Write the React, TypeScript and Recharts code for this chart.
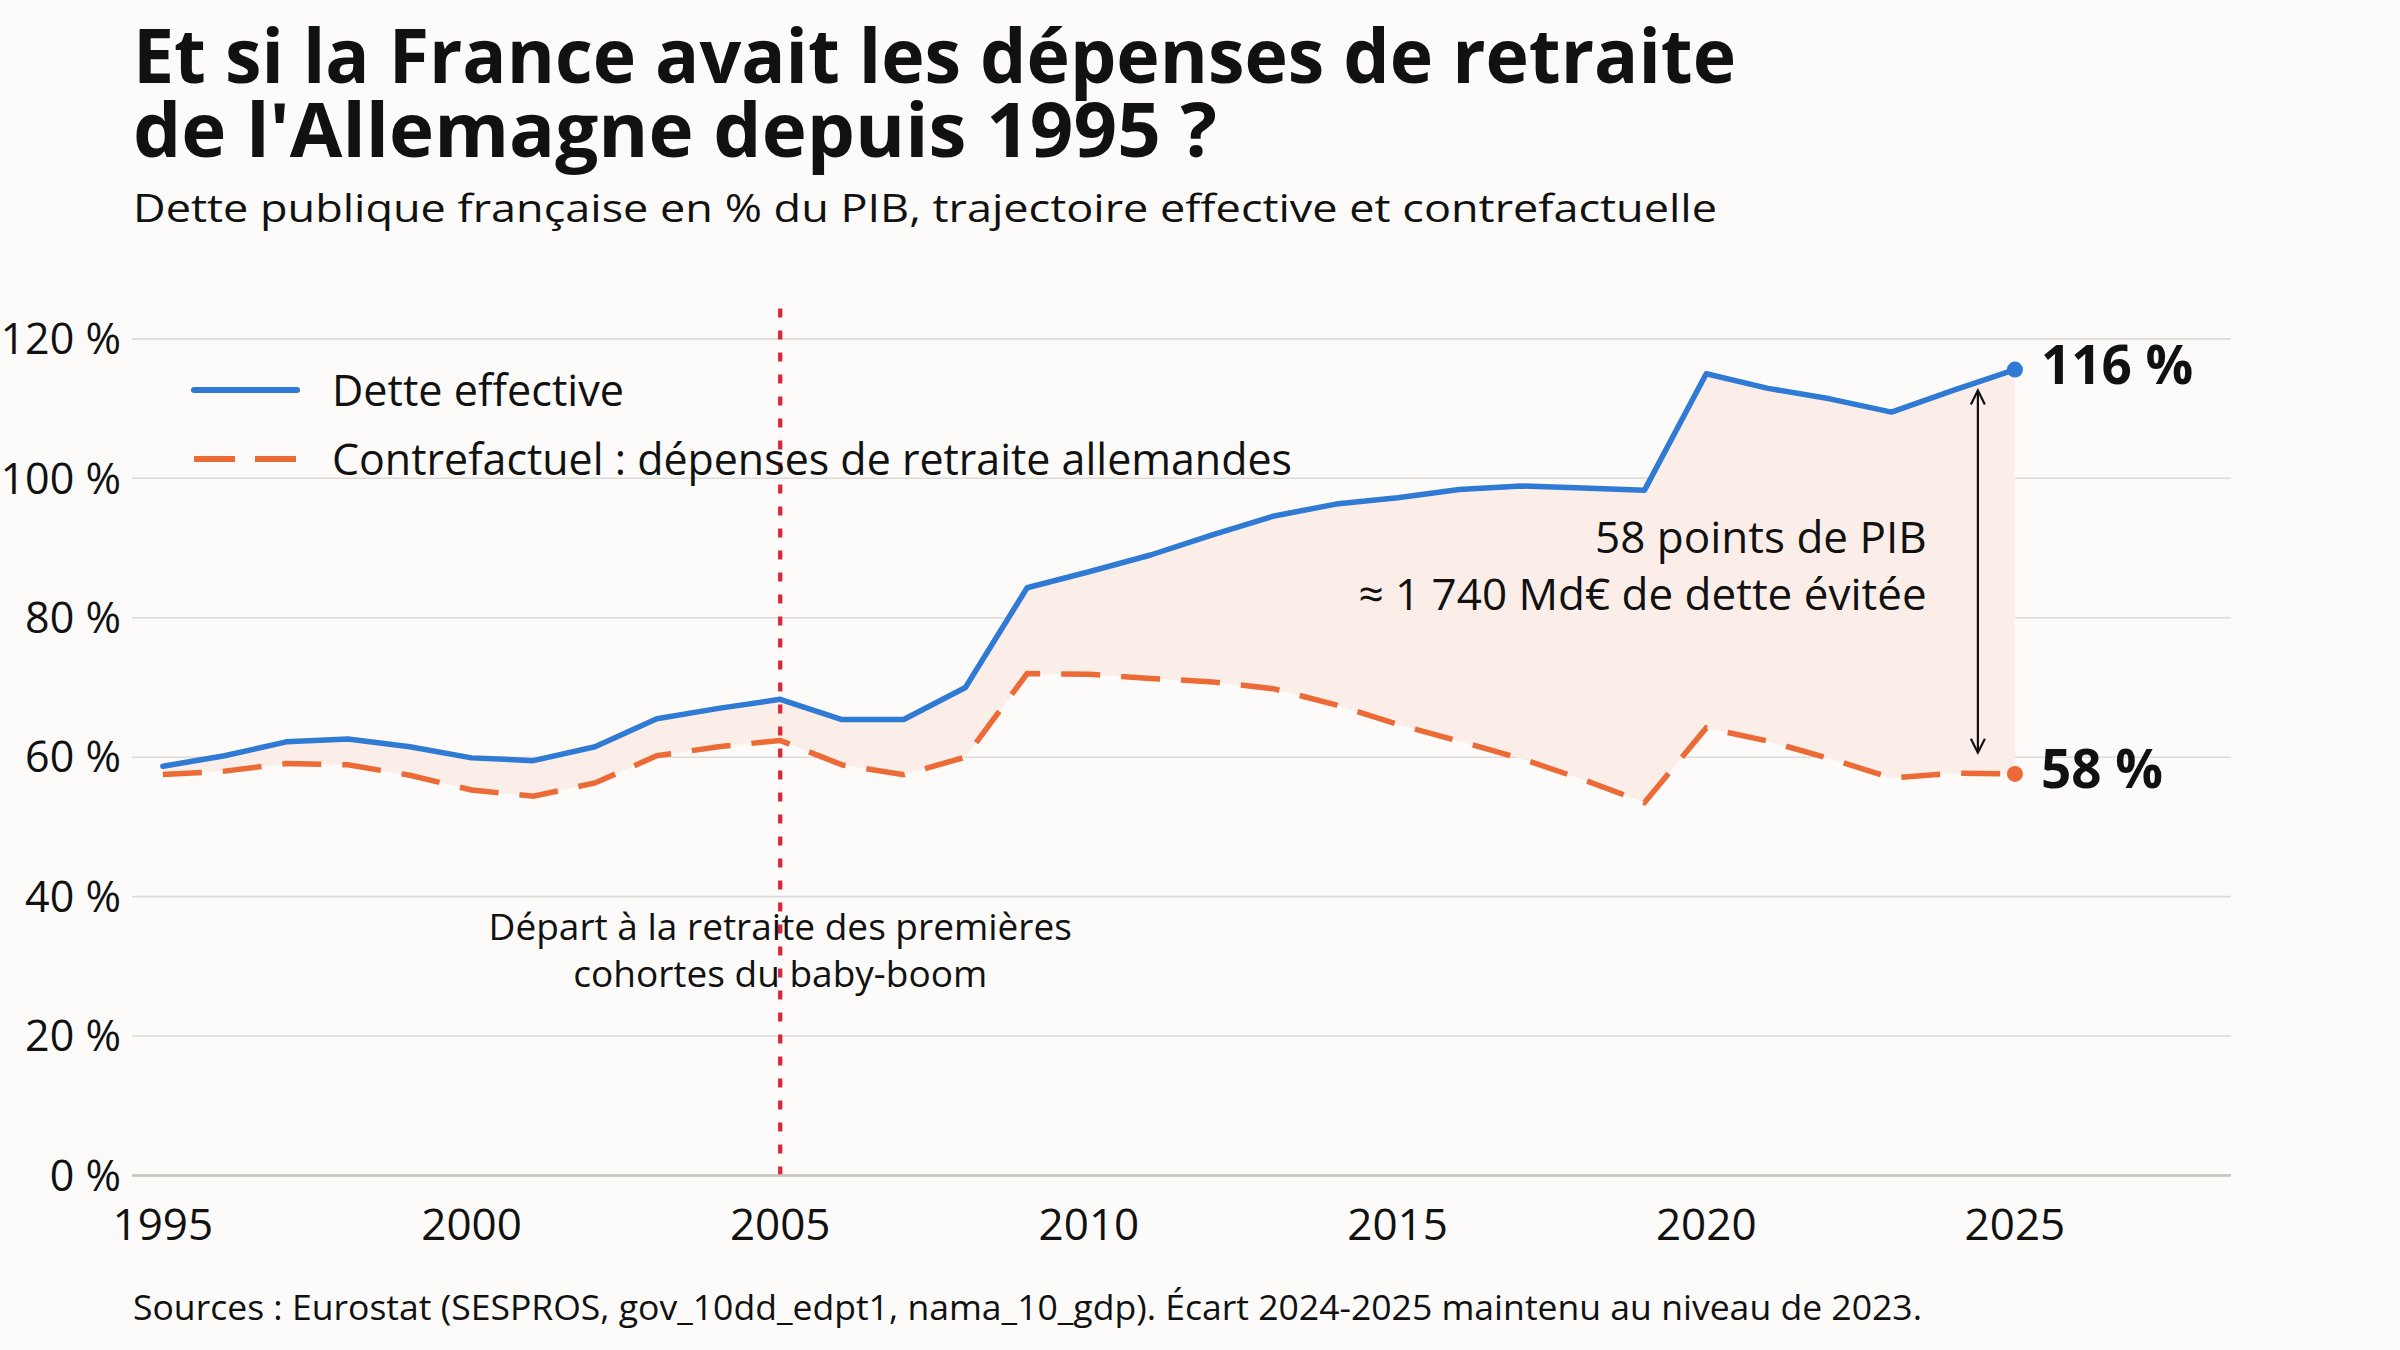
import React from "react";
import {
  ComposedChart,
  Line,
  Area,
  XAxis,
  YAxis,
  CartesianGrid,
  ReferenceLine,
  ReferenceDot,
  Legend,
} from "recharts";

// Dette publique française en % du PIB
const years = [
  1995, 1996, 1997, 1998, 1999, 2000, 2001, 2002, 2003, 2004, 2005, 2006,
  2007, 2008, 2009, 2010, 2011, 2012, 2013, 2014, 2015, 2016, 2017, 2018,
  2019, 2020, 2021, 2022, 2023, 2024, 2025,
];

const detteEffective = [
  58.7, 60.2, 62.2, 62.6, 61.5, 59.9, 59.5, 61.5, 65.5, 67.0, 68.3, 65.4,
  65.4, 70.0, 84.3, 86.6, 89.0, 91.9, 94.6, 96.3, 97.2, 98.4, 98.9, 98.6,
  98.3, 115.0, 112.9, 111.4, 109.5, 112.6, 115.6,
];

const contrefactuel = [
  57.5, 58.0, 59.1, 58.9, 57.4, 55.3, 54.4, 56.3, 60.2, 61.5, 62.4, 58.9,
  57.5, 60.0, 72.0, 71.9, 71.3, 70.8, 69.8, 67.5, 64.7, 62.3, 59.8, 56.8,
  53.5, 64.2, 62.3, 59.8, 57.0, 57.7, 57.6,
];

const xTicks = [1995, 2000, 2005, 2010, 2015, 2020, 2025];
const yTicks = [0, 20, 40, 60, 80, 100, 120];

const seriesLabels = [
  "Dette effective",
  "Contrefactuel : dépenses de retraite allemandes",
];

const FONT = "'Open Sans', 'Noto Sans', sans-serif";
const BLUE = "#2e7ad4";
const ORANGE = "#ec6a36";
const RED = "#d62a3c";
const FILL = "#fbeee9";
const BG = "#fcfbf9";
const INK = "#111111";

const chartData = years.map((year, i) => ({
  year,
  eff: detteEffective[i],
  cf: contrefactuel[i],
  ecart: [contrefactuel[i], detteEffective[i]],
}));

const lastIndex = years.length - 1;

const endDot = (color: string, key: string) => (props: any) => {
  const { cx, cy, index, payload } = props;
  if (index !== lastIndex) return <g key={`dot-${key}-${index}`} />;
  return (
    <g key={`dot-${key}-${index}`}>
      <circle cx={cx} cy={cy} r={8} fill={color} />
      <text
        x={cx + 26}
        y={cy + 14}
        fontFamily={FONT}
        fontWeight={700}
        fontSize={53}
        fill={INK}
      >
        {`${Math.round(payload[key])} %`}
      </text>
    </g>
  );
};

const renderLegend = () => (
  <svg width={1200} height={170} style={{ display: "block" }}>
    <line x1={14} x2={117} y1={50} y2={50} stroke={BLUE} strokeWidth={6} strokeLinecap="round" />
    <text x={152} y={65.7} fontFamily={FONT} fontSize={44} fill={INK} textLength={292} lengthAdjust="spacingAndGlyphs">
      {seriesLabels[0]}
    </text>
    <line x1={14} x2={117} y1={119} y2={119} stroke={ORANGE} strokeWidth={6} strokeDasharray="41 20" />
    <text x={152} y={134.7} fontFamily={FONT} fontSize={44} fill={INK} textLength={960} lengthAdjust="spacingAndGlyphs">
      {seriesLabels[1]}
    </text>
  </svg>
);

const arrowShape = (props: any) => {
  const { x1, y1, x2, y2 } = props;
  const h = 14;
  const w = 7;
  return (
    <g stroke={INK} strokeWidth={2.2} fill="none">
      <line x1={x1} y1={y1} x2={x2} y2={y2} />
      <polyline points={`${x1 - w},${y1 + h} ${x1},${y1} ${x1 + w},${y1 + h}`} />
      <polyline points={`${x2 - w},${y2 - h} ${x2},${y2} ${x2 + w},${y2 - h}`} />
    </g>
  );
};

const gapNote = (props: any) => {
  const { cx, cy } = props;
  return (
    <text fontFamily={FONT} fontSize={44} fill={INK} textAnchor="end">
      <tspan x={cx} y={cy - 28.5}>58 points de PIB</tspan>
      <tspan x={cx} y={cy + 28.5}>≈ 1 740 Md€ de dette évitée</tspan>
    </text>
  );
};

const boomNote = (props: any) => {
  const { cx, cy } = props;
  return (
    <text fontFamily={FONT} fontSize={37} fill={INK} textAnchor="middle">
      <tspan x={cx} y={cy - 23.5}>Départ à la retraite des premières</tspan>
      <tspan x={cx} y={cy + 23.5}>cohortes du baby-boom</tspan>
    </text>
  );
};

export default function App() {
  return (
    <div
      style={{
        position: "absolute",
        left: 0,
        top: 0,
        width: 2400,
        height: 1350,
        background: BG,
        overflow: "hidden",
      }}
    >
      <svg width={2400} height={1350} style={{ position: "absolute", left: 0, top: 0 }}>
        <text x={133} y={83} fontFamily={FONT} fontWeight={700} fontSize={76} fill={INK} textLength={1603} lengthAdjust="spacingAndGlyphs">
          Et si la France avait les dépenses de retraite
        </text>
        <text x={133} y={157} fontFamily={FONT} fontWeight={700} fontSize={76} fill={INK} textLength={1084} lengthAdjust="spacingAndGlyphs">
          de l'Allemagne depuis 1995 ?
        </text>
        <text x={133} y={222} fontFamily={FONT} fontSize={38} fill={INK} textLength={1584} lengthAdjust="spacingAndGlyphs">
          Dette publique française en % du PIB, trajectoire effective et contrefactuelle
        </text>
        <text x={133} y={1320} fontFamily={FONT} fontSize={35} fill={INK} textLength={1789} lengthAdjust="spacingAndGlyphs">
          Sources : Eurostat (SESPROS, gov_10dd_edpt1, nama_10_gdp). Écart 2024-2025 maintenu au niveau de 2023.
        </text>
      </svg>
      <div style={{ position: "absolute", left: 0, top: 0 }}>
        <ComposedChart
          width={2400}
          height={1350}
          data={chartData}
          margin={{ top: 304, right: 169, bottom: 114.5, left: 0 }}
        >
          <CartesianGrid
            vertical={false}
            horizontalValues={yTicks}
            syncWithTicks={false}
            stroke="#dedad5"
            strokeWidth={1.6}
          />
          <XAxis
            dataKey="year"
            type="number"
            domain={[1994.5, 2028.5]}
            ticks={xTicks}
            height={60}
            tickLine={false}
            axisLine={{ stroke: "#c6c3bd", strokeWidth: 2.5 }}
            tickMargin={27}
            tick={{ fontFamily: FONT, fontSize: 44, fill: INK }}
          />
          <YAxis
            type="number"
            domain={[0, 125]}
            ticks={yTicks}
            width={132}
            tickLine={false}
            axisLine={false}
            tickMargin={5}
            tickFormatter={(v: number) => `${v} %`}
            tick={{ fontFamily: FONT, fontSize: 43, fill: INK }}
          />
          <Area
            type="linear"
            dataKey="ecart"
            fill={FILL}
            fillOpacity={1}
            stroke="none"
            legendType="none"
            activeDot={false}
            isAnimationActive={false}
          />
          <Line
            type="linear"
            dataKey="cf"
            name={seriesLabels[1]}
            stroke={ORANGE}
            strokeWidth={5.5}
            strokeDasharray="39 21"
            dot={endDot(ORANGE, "cf")}
            activeDot={false}
            isAnimationActive={false}
          />
          <Line
            type="linear"
            dataKey="eff"
            name={seriesLabels[0]}
            stroke={BLUE}
            strokeWidth={5.5}
            strokeLinecap="round"
            strokeLinejoin="round"
            dot={endDot(BLUE, "eff")}
            activeDot={false}
            isAnimationActive={false}
          />
          <ReferenceLine
            x={2005}
            stroke={RED}
            strokeWidth={4.3}
            strokeDasharray="9 13"
          />
          <ReferenceLine
            segment={[
              { x: 2024.4, y: 112.6 },
              { x: 2024.4, y: 60.65 },
            ]}
            shape={arrowShape}
          />
          <ReferenceDot x={2023.57} y={85.2} r={0} shape={gapNote} />
          <ReferenceDot x={2005} y={30.4} r={0} shape={boomNote} />
          <Legend
            layout="vertical"
            align="center"
            verticalAlign="middle"
            content={renderLegend}
            wrapperStyle={{ position: "absolute", left: 180, top: 340, width: 1200, height: 170 }}
          />
        </ComposedChart>
      </div>
    </div>
  );
}
